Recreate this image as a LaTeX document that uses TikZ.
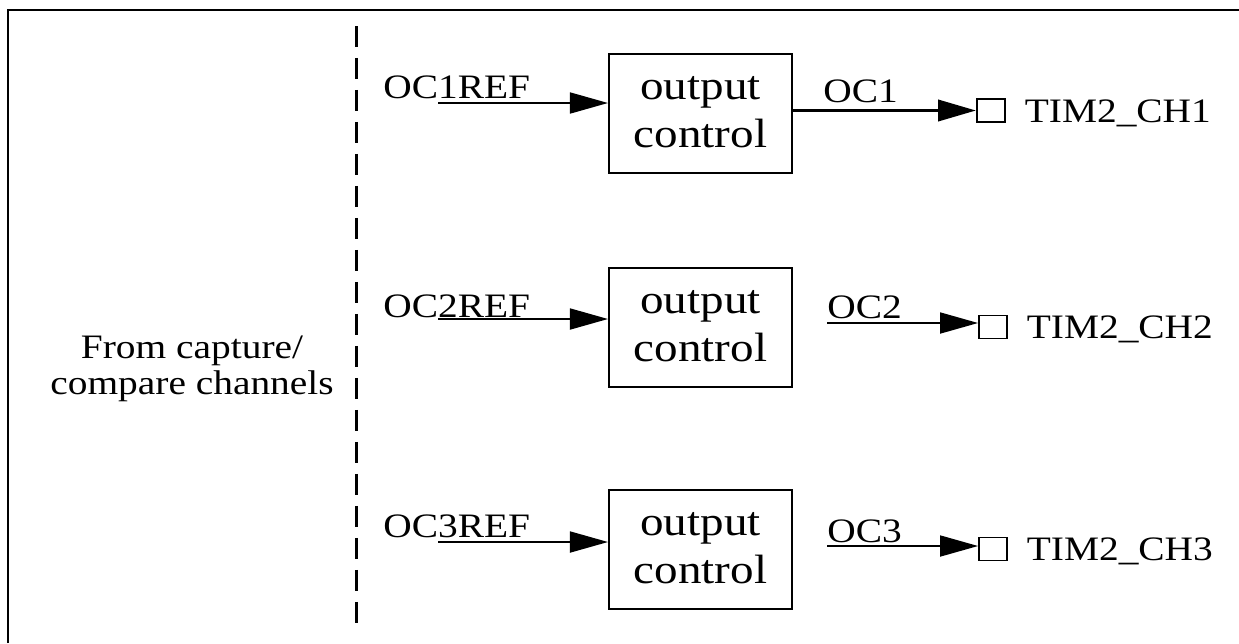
\documentclass[tikz,border=0pt]{standalone}
\usepackage{fontspec}
\setmainfont{Liberation Serif}
\usepackage{graphicx}
\usetikzlibrary{arrows.meta, positioning}

\newcommand{\wide}[1]{\scalebox{1.15}[1]{#1}}

\tikzset{
  ctlbox/.style={draw, line width=1.2pt, minimum width=3.66cm, minimum height=2.38cm,
    inner sep=0pt, font=\fontsize{23.3}{27.3}\selectfont},
  sig/.style={inner sep=0pt, anchor=base west, font=\fontsize{19.5}{17.6}\selectfont},
  pad/.style={draw, line width=1.1pt, minimum width=0.56cm, minimum height=0.46cm, inner sep=0pt},
  wire/.style={line width=1pt, -{Triangle[length=0.76cm, width=0.42cm]}},
}

\begin{document}
\begin{tikzpicture}[x=0.02cm, y=-0.02cm]
    \useasboundingbox (0,0) rectangle (1239,643);
    \draw[line width=1.3pt] (8,643) -- (8,10) -- (1239,10);
    \draw[line width=1.7pt, dash pattern=on 0.42cm off 0.22cm] (356,26) -- (356,628);

    \node[font=\fontsize{19.5}{20.5}\selectfont] (src) at (192,369)
      {\wide{\begin{tabular}{@{}c@{}}From capture/\\ compare channels\end{tabular}}};

    % output control blocks
    \node[ctlbox] (ctl1) at (700.5,113.5) {\wide{\begin{tabular}{@{}c@{}}output\\ control\end{tabular}}};
    \node[ctlbox] (ctl2) at (700.5,327.5) {\wide{\begin{tabular}{@{}c@{}}output\\ control\end{tabular}}};
    \node[ctlbox] (ctl3) at (700.5,549.5) {\wide{\begin{tabular}{@{}c@{}}output\\ control\end{tabular}}};

    % reference signals in
    \node[sig] (ref1) at (383,98)  {\wide{OC1REF}};
    \node[sig] (ref2) at (383,317) {\wide{OC2REF}};
    \node[sig] (ref3) at (383,537) {\wide{OC3REF}};
    \coordinate (r1) at (438,103);
    \coordinate (r2) at (438,319);
    \coordinate (r3) at (438,542);
    \draw[wire] (r1) -- (r1 -| ctl1.west);
    \draw[wire] (r2) -- (r2 -| ctl2.west);
    \draw[wire] (r3) -- (r3 -| ctl3.west);

    % channel pins
    \node[pad] (pad1) at (991,110.5) {};
    \node[pad] (pad2) at (993,327) {};
    \node[pad] (pad3) at (993,549) {};
    \node[sig, right=0.37cm of pad1, yshift=-1.5pt] (ch1) {\wide{TIM2\_CH1}};
    \node[sig, right=0.37cm of pad2, yshift=-1.5pt] (ch2) {\wide{TIM2\_CH2}};
    \node[sig, right=0.37cm of pad3, yshift=-1.5pt] (ch3) {\wide{TIM2\_CH3}};

    % outputs
    \node[sig] (oc1) at (823,102) {\wide{OC1}};
    \node[sig] (oc2) at (827,318) {\wide{OC2}};
    \node[sig] (oc3) at (827,542) {\wide{OC3}};
    \draw[wire, line width=2.2pt] (ctl1.east |- pad1.center) -- (pad1.west);
    \coordinate (o2) at (827,323);
    \coordinate (o3) at (827,546);
    \draw[wire] (o2) -- (o2 -| pad2.west);
    \draw[wire] (o3) -- (o3 -| pad3.west);
\end{tikzpicture}
\end{document}
